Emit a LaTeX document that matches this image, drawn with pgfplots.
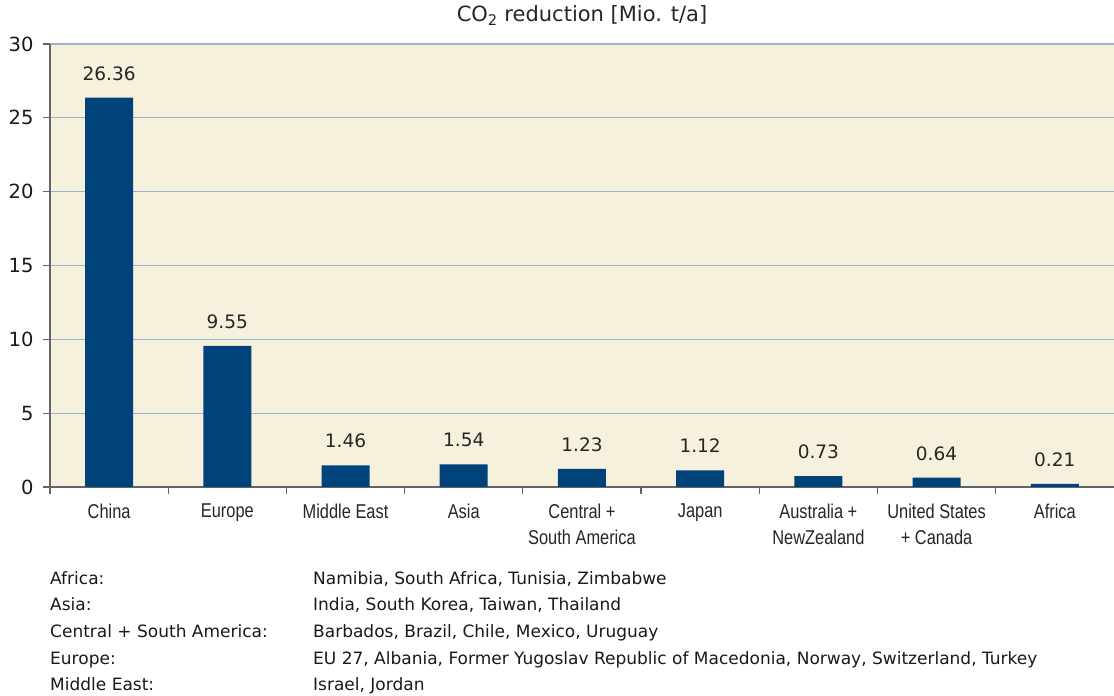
\documentclass[border=0pt]{standalone}
\usepackage{fontspec}
\setmainfont{DejaVu Sans}
\newfontfamily\narrowfont[FakeStretch=0.82]{Liberation Sans}
\usepackage{pgfplots}
\pgfplotsset{compat=1.18}
\definecolor{barblue}{RGB}{0,67,122}
\definecolor{bgc}{RGB}{246,241,220}
\definecolor{gridc}{RGB}{150,178,208}
\definecolor{axisc}{RGB}{100,100,100}
\begin{document}
\begin{tikzpicture}
\path[use as bounding box] (0,0) rectangle (1114bp,696bp);
\begin{axis}[
  name=ax, at={(50bp,209bp)}, anchor=south west,
  scale only axis, width=1064bp, height=443bp,
  xmin=-0.5, xmax=8.5, ymin=0, ymax=30,
  axis x line*=bottom, axis y line*=left,
  axis line style={-, axisc, line width=1.2bp},
  axis background/.style={fill=bgc},
  ytick={0,5,...,30},
  ymajorgrids, grid style={gridc, line width=1.1bp},
  xtick={0,...,8},
  minor xtick={-0.5,0.5,...,7.5},
  every major x tick/.style={draw=none},
  xticklabels={China, Europe, Middle East, Asia, {Central +\\South America}, Japan, {Australia +\\NewZealand}, {United States\\+ Canada}, Africa},
  x tick label style={font=\narrowfont\fontsize{20bp}{26bp}\selectfont, align=center, text=black!85, yshift=-6bp},
  y tick label style={font=\fontsize{19.5bp}{20bp}\selectfont, xshift=-6bp, text=black!90},
  /pgf/number format/assume math mode=true,
  tick align=outside,
  major tick length=7bp,
  minor tick length=7bp,
  tick style={axisc, line width=1.2bp},
  ybar, bar width=48bp,
  point meta=explicit symbolic,
  nodes near coords,
  nodes near coords style={font=\fontsize{18.5bp}{20bp}\selectfont, anchor=base, yshift=17.5bp, text=black!85},
  clip=false,
]
\addplot[fill=barblue, draw=none] coordinates {
  (0,26.36) [26.36]
  (1,9.55) [9.55]
  (2,1.46) [1.46]
  (3,1.54) [1.54]
  (4,1.23) [1.23]
  (5,1.12) [1.12]
  (6,0.73) [0.73]
  (7,0.64) [0.64]
  (8,0.21) [0.21]
};
\end{axis}
\node[anchor=base, font=\fontsize{21bp}{22bp}\selectfont, text=black!85] at (582bp,674bp) {CO\textsubscript{2} reduction [Mio. t/a]};
\begin{scope}[every node/.style={anchor=base west, inner sep=0pt, font=\fontsize{17bp}{18bp}\selectfont, text=black!90}]
\node at (50bp,111bp) {Africa:};
\node at (313bp,111bp) {Namibia, South Africa, Tunisia, Zimbabwe};
\node at (50bp,85bp) {Asia:};
\node at (313bp,85bp) {India, South Korea, Taiwan, Thailand};
\node at (50bp,58.5bp) {Central + South America:};
\node at (313bp,58.5bp) {Barbados, Brazil, Chile, Mexico, Uruguay};
\node at (50bp,32bp) {Europe:};
\node at (313bp,32bp) {EU 27, Albania, Former Yugoslav Republic of Macedonia, Norway, Switzerland, Turkey};
\node at (50bp,6bp) {Middle East:};
\node at (313bp,6bp) {Israel, Jordan};
\end{scope}
\end{tikzpicture}
\end{document}
